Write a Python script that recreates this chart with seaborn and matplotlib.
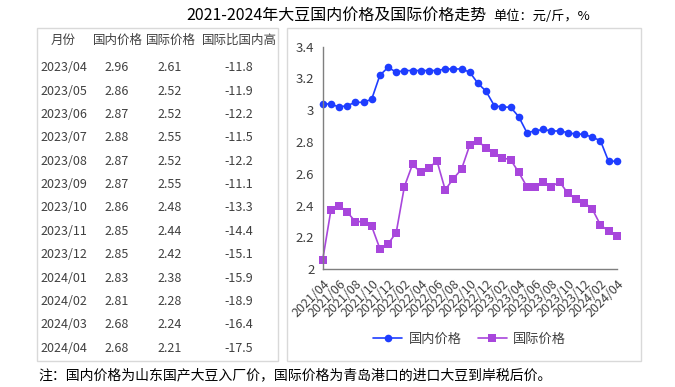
import matplotlib
matplotlib.use("Agg")
import matplotlib.pyplot as plt
import seaborn as sns
import pandas as pd
from matplotlib.patches import Rectangle

# monthly series 2021/04 - 2024/04
months = [str(p).replace("-", "/") for p in pd.period_range("2021-04", "2024-04", freq="M")]
domestic = [3.04, 3.04, 3.02, 3.03, 3.05, 3.05, 3.07, 3.22, 3.27, 3.24,
            3.25, 3.25, 3.25, 3.25, 3.25, 3.26, 3.26, 3.26, 3.24, 3.17,
            3.12, 3.03, 3.02, 3.02, 2.96, 2.86, 2.87, 2.88, 2.87, 2.87,
            2.86, 2.85, 2.85, 2.83, 2.81, 2.68, 2.68]
intl = [2.06, 2.37, 2.40, 2.36, 2.30, 2.30, 2.27, 2.13, 2.16, 2.23,
        2.52, 2.66, 2.61, 2.64, 2.68, 2.50, 2.57, 2.63, 2.78, 2.81,
        2.76, 2.73, 2.70, 2.69, 2.61, 2.52, 2.52, 2.55, 2.52, 2.55,
        2.48, 2.44, 2.42, 2.38, 2.28, 2.24, 2.21]

# table on the left
tab_month = ["2023/04", "2023/05", "2023/06", "2023/07", "2023/08", "2023/09", "2023/10",
             "2023/11", "2023/12", "2024/01", "2024/02", "2024/03", "2024/04"]
tab_dom = ["2.96", "2.86", "2.87", "2.88", "2.87", "2.87", "2.86",
           "2.85", "2.85", "2.83", "2.81", "2.68", "2.68"]
tab_intl = ["2.61", "2.52", "2.52", "2.55", "2.52", "2.55", "2.48",
            "2.44", "2.42", "2.38", "2.28", "2.24", "2.21"]
tab_gap = ["-11.8", "-11.9", "-12.2", "-11.5", "-12.2", "-11.1", "-13.3",
           "-14.4", "-15.1", "-15.9", "-18.9", "-16.4", "-17.5"]
tab_head = ["月份", "国内价格", "国际价格", "国际比国内高"]

sns.set_style("white")
plt.rcParams["font.family"] = ["Noto Sans CJK SC", "DejaVu Sans"]

W, H = 675, 387
fig = plt.figure(figsize=(6.75, 3.87), dpi=100)

def fx(px):
    return px / W

def fy(py):
    return 1 - py / H

# frames
for x0, x1 in [(37, 278), (287, 641)]:
    fig.add_artist(Rectangle((fx(x0), fy(361)), fx(x1 - x0), (361 - 28) / H,
                             transform=fig.transFigure, fill=False,
                             edgecolor="#d9d9d9", linewidth=1))

# title
fig.text(fx(336), fy(15), "2021-2024年大豆国内价格及国际价格走势", ha="center", va="center",
         fontsize=11.5, color="black")
fig.text(fx(493), fy(16), "单位：元/斤，%", ha="left", va="center", fontsize=9.5, color="black")

# table text
tc = "#404040"
head_x = [63, 118, 171, 239]
for hx, h in zip(head_x, tab_head):
    fig.text(fx(hx), fy(40), h, ha="center", va="center", fontsize=9, color=tc)
for i in range(len(tab_month)):
    y = 67.7 + i * 23.38
    fig.text(fx(40), fy(y), tab_month[i], ha="left", va="center", fontsize=9, color=tc)
    fig.text(fx(117), fy(y), tab_dom[i], ha="center", va="center", fontsize=9, color=tc)
    fig.text(fx(170), fy(y), tab_intl[i], ha="center", va="center", fontsize=9, color=tc)
    fig.text(fx(253), fy(y), tab_gap[i], ha="right", va="center", fontsize=9, color=tc)

# chart
ax = fig.add_axes([fx(322.7), fy(269.3), fx(616.7 - 322.7), (269.3 - 46.7) / H])
df = pd.DataFrame({"月份": months, "国内价格": domestic, "国际价格": intl})
long = df.melt(id_vars="月份", var_name="系列", value_name="价格")
sns.lineplot(data=long, x="月份", y="价格", hue="系列", style="系列",
             markers={"国内价格": "o", "国际价格": "s"}, dashes=False,
             palette={"国内价格": "#1e3dff", "国际价格": "#a846dc"},
             markersize=5.5, markeredgewidth=0, linewidth=1.2, sort=False, ax=ax)

ax.set_xlim(0, len(months) - 1)
ax.set_ylim(2, 3.4)
ax.set_yticks([2, 2.2, 2.4, 2.6, 2.8, 3, 3.2, 3.4])
ax.set_yticklabels(["2", "2.2", "2.4", "2.6", "2.8", "3", "3.2", "3.4"])
ax.set_xticks(range(0, len(months), 2))
ax.set_xticklabels(months[::2], rotation=45, ha="right", rotation_mode="anchor")
ax.set_xlabel("")
ax.set_ylabel("")
for s in ["top", "right"]:
    ax.spines[s].set_visible(False)
for s in ["left", "bottom"]:
    ax.spines[s].set_color("#7f7f7f")
    ax.spines[s].set_linewidth(1)
ax.tick_params(axis="both", direction="out", length=4, width=1, color="#7f7f7f",
               labelcolor="#404040", pad=2)
ax.tick_params(axis="y", labelsize=9.5)
ax.tick_params(axis="x", labelsize=9)
for line in ax.get_lines():
    line.set_clip_on(False)

leg = ax.legend(loc="center", bbox_to_anchor=(0.5, -0.315), ncol=2, frameon=False,
                fontsize=9.5, handlelength=2.2, columnspacing=1.2, handletextpad=0.5)
for t in leg.get_texts():
    t.set_color("#404040")

# note
fig.text(fx(38), fy(375), "注：国内价格为山东国产大豆入厂价，国际价格为青岛港口的进口大豆到岸税后价。",
         ha="left", va="center", fontsize=10, color="black")

fig.savefig("out.png", dpi=100)
